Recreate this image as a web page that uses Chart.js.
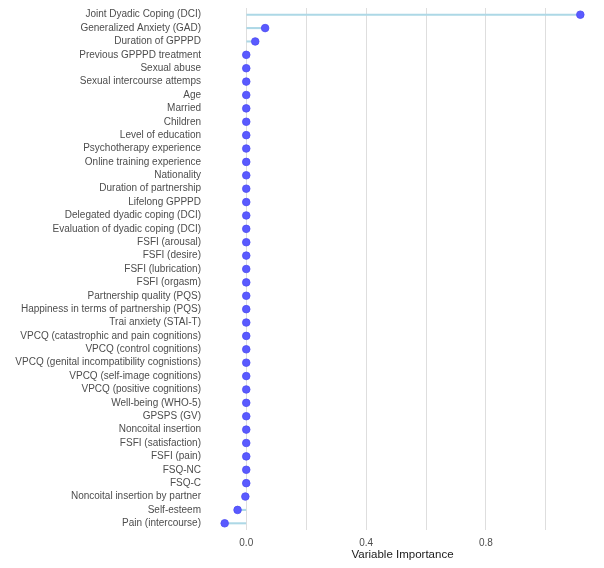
<!DOCTYPE html>
<html>
<head>
<meta charset="utf-8">
<script src="https://cdn.jsdelivr.net/npm/chart.js@4.4.1/dist/chart.umd.min.js"></script>
<style>
  html, body { margin: 0; padding: 0; background: #fff; }
  #wrap { width: 604px; height: 568px; }
</style>
</head>
<body>
<div id="wrap"><canvas id="chart"></canvas></div>
<script>
// variable names, top to bottom
const variables = [
  "Joint Dyadic Coping (DCI)",
  "Generalized Anxiety (GAD)",
  "Duration of GPPPD",
  "Previous GPPPD treatment",
  "Sexual abuse",
  "Sexual intercourse attemps",
  "Age",
  "Married",
  "Children",
  "Level of education",
  "Psychotherapy experience",
  "Online training experience",
  "Nationality",
  "Duration of partnership",
  "Lifelong GPPPD",
  "Delegated dyadic coping (DCI)",
  "Evaluation of dyadic coping (DCI)",
  "FSFI (arousal)",
  "FSFI (desire)",
  "FSFI (lubrication)",
  "FSFI (orgasm)",
  "Partnership quality (PQS)",
  "Happiness in terms of partnership (PQS)",
  "Trai anxiety (STAI-T)",
  "VPCQ (catastrophic and pain cognitions)",
  "VPCQ (control cognitions)",
  "VPCQ (genital incompatibility cognistions)",
  "VPCQ (self-image cognitions)",
  "VPCQ (positive cognitions)",
  "Well-being (WHO-5)",
  "GPSPS (GV)",
  "Noncoital insertion",
  "FSFI (satisfaction)",
  "FSFI (pain)",
  "FSQ-NC",
  "FSQ-C",
  "Noncoital insertion by partner",
  "Self-esteem",
  "Pain (intercourse)"
];

// importance values
const importance = [
  1.115, 0.063, 0.030, 0.000, 0.000, 0.000, 0.000, 0.000, 0.000, 0.000,
  0.000, 0.000, 0.000, 0.000, 0.000, 0.000, 0.000, 0.000, 0.000, 0.000,
  0.000, 0.000, 0.000, 0.000, 0.000, 0.000, 0.000, 0.000, 0.000, 0.000,
  0.000, 0.000, 0.000, 0.000, 0.000, 0.000, -0.003, -0.029, -0.072
];

const xTickLabels = [0, 0.4, 0.8];

const font = "'Liberation Sans', Arial, sans-serif";

new Chart(document.getElementById("chart"), {
  type: "bar",
  data: {
    labels: variables,
    datasets: [
      {
        type: "line",
        data: importance,
        showLine: false,
        pointRadius: 3.8,
        pointHoverRadius: 3.8,
        pointBackgroundColor: "#5a5aff",
        pointBorderColor: "#4c4cf2",
        pointBorderWidth: 0.8,
        order: 0
      },
      {
        data: importance,
        backgroundColor: "#add8e6",
        borderWidth: 0,
        barThickness: 1.4,
        order: 1
      }
    ]
  },
  options: {
    indexAxis: "y",
    responsive: true,
    maintainAspectRatio: false,
    animation: false,
    layout: { padding: { top: 8, right: 6, bottom: 6, left: 0 } },
    plugins: {
      legend: { display: false },
      tooltip: { enabled: false }
    },
    scales: {
      x: {
        type: "linear",
        min: -0.131,
        max: 1.174,
        border: { display: false },
        grid: { color: "#dedede", lineWidth: 1, drawTicks: false },
        ticks: {
          stepSize: 0.2,
          includeBounds: false,
          padding: 8,
          color: "#4d4d4d",
          font: { family: font, size: 10, lineHeight: 1.0 },
          maxRotation: 0,
          autoSkip: false,
          callback: (v) => {
            const hit = xTickLabels.find((t) => Math.abs(t - v) < 1e-6);
            return hit === undefined ? "" : hit.toFixed(1);
          }
        },
        title: {
          display: true,
          text: "Variable Importance",
          color: "#1a1a1a",
          font: { family: font, size: 11.5 },
          padding: { top: 0, bottom: 0 }
        },
        afterFit: (scale) => {
          scale.height = 32;
          scale.paddingLeft = 0;
          scale.paddingRight = 0;
        }
      },
      y: {
        border: { display: false },
        grid: { display: false, drawTicks: false },
        ticks: {
          padding: 6,
          color: "#4d4d4d",
          font: { family: font, size: 10 },
          autoSkip: false
        },
        afterFit: (scale) => {
          scale.width = 207;
          scale.paddingTop = 0;
          scale.paddingBottom = 0;
        }
      }
    }
  }
});
</script>
</body>
</html>
